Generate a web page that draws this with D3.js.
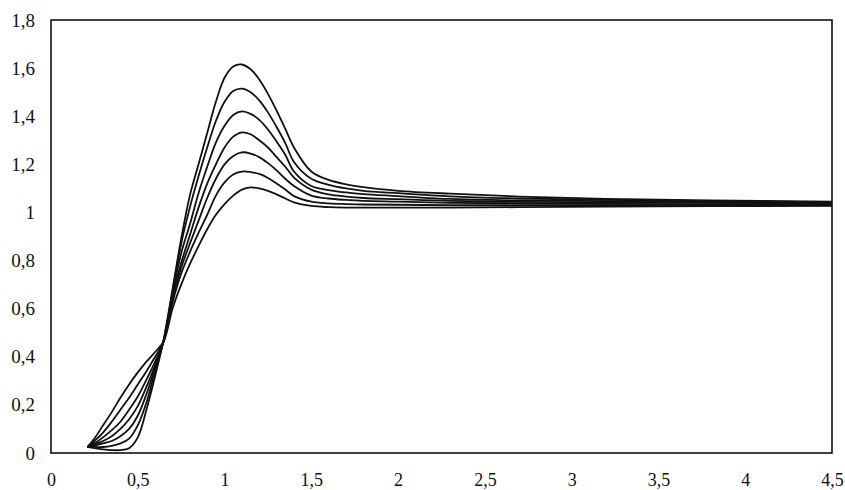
<!DOCTYPE html>
<html><head><meta charset="utf-8">
<script src="https://cdn.jsdelivr.net/npm/d3@7/dist/d3.min.js"></script>
<style>
html,body{margin:0;padding:0;background:#fff;}
svg{display:block;}
text{font-family:"Liberation Serif","Times New Roman",serif;fill:#111;}
</style></head>
<body>
<svg id="c" width="845" height="490"></svg>
<script>
const xTicks = [0, 0.5, 1, 1.5, 2, 2.5, 3, 3.5, 4, 4.5];
const xTickLabels = ["0", "0,5", "1", "1,5", "2", "2,5", "3", "3,5", "4", "4,5"];
const yTicks = [0, 0.2, 0.4, 0.6, 0.8, 1, 1.2, 1.4, 1.6, 1.8];
const yTickLabels = ["0", "0,2", "0,4", "0,6", "0,8", "1", "1,2", "1,4", "1,6", "1,8"];

const xs = [0.21,0.25,0.3,0.35,0.4,0.45,0.5,0.55,0.6,0.65,0.7,0.75,0.8,0.85,0.9,0.95,1.0,1.05,1.1,1.15,1.2,1.25,1.3,1.35,1.4,1.5,1.6,1.7,1.8,2.0,2.3,2.7,3.2,3.8,4.5];

const curve1 = [0.025,0.02,0.015,0.012,0.012,0.02,0.065,0.18,0.32,0.475,0.68,0.89,1.07,1.20,1.33,1.46,1.56,1.607,1.615,1.595,1.553,1.493,1.423,1.347,1.27,1.17,1.135,1.117,1.105,1.09,1.078,1.066,1.056,1.05,1.045];
const curve2 = [0.025,0.025,0.025,0.03,0.04,0.06,0.115,0.21,0.34,0.472,0.67,0.87,1.02,1.15,1.27,1.38,1.46,1.505,1.515,1.50,1.466,1.416,1.355,1.288,1.21,1.14,1.115,1.10,1.09,1.08,1.067,1.058,1.052,1.047,1.043];
const curve3 = [0.025,0.03,0.04,0.05,0.07,0.10,0.155,0.245,0.355,0.47,0.66,0.83,0.95,1.08,1.19,1.29,1.36,1.405,1.42,1.41,1.385,1.345,1.295,1.24,1.17,1.11,1.093,1.083,1.076,1.068,1.056,1.05,1.047,1.043,1.04];
const curve4 = [0.025,0.035,0.05,0.07,0.10,0.14,0.195,0.275,0.365,0.468,0.65,0.79,0.905,1.02,1.12,1.20,1.27,1.315,1.333,1.325,1.30,1.27,1.23,1.19,1.145,1.095,1.075,1.066,1.06,1.055,1.048,1.044,1.042,1.04,1.037];
const curve5 = [0.025,0.04,0.065,0.095,0.13,0.18,0.235,0.305,0.38,0.466,0.64,0.77,0.87,0.965,1.06,1.14,1.20,1.235,1.25,1.245,1.23,1.205,1.175,1.14,1.11,1.07,1.058,1.052,1.048,1.045,1.04,1.038,1.036,1.035,1.034];
const curve6 = [0.025,0.05,0.085,0.13,0.18,0.23,0.285,0.34,0.40,0.465,0.625,0.745,0.835,0.915,0.99,1.07,1.125,1.158,1.17,1.168,1.16,1.143,1.12,1.095,1.068,1.045,1.038,1.035,1.033,1.032,1.03,1.03,1.03,1.03,1.03];
const curve7 = [0.025,0.06,0.115,0.17,0.23,0.285,0.335,0.38,0.42,0.465,0.60,0.70,0.785,0.86,0.93,0.99,1.035,1.07,1.095,1.104,1.10,1.09,1.075,1.058,1.042,1.027,1.022,1.02,1.02,1.02,1.02,1.022,1.024,1.026,1.027];

const series = [curve1, curve2, curve3, curve4, curve5, curve6, curve7];

const svg = d3.select("#c");
const x = d3.scaleLinear().domain([0, 4.5]).range([51, 832]);
const y = d3.scaleLinear().domain([0, 1.8]).range([453, 20]);

const line = d3.line().x(d => x(d[0])).y(d => y(d[1])).curve(d3.curveCatmullRom.alpha(0.5));
svg.append("g").selectAll("path").data(series).join("path")
  .attr("d", s => line(xs.map((v, i) => [v, s[i]])))
  .attr("fill", "none").attr("stroke", "#111").attr("stroke-width", 1.8)
  .attr("stroke-linejoin", "round");

svg.append("rect").attr("x", x(0)).attr("y", y(1.8)).attr("width", x(4.5) - x(0)).attr("height", y(0) - y(1.8))
  .attr("fill", "none").attr("stroke", "#111").attr("stroke-width", 1.6);

const xAxis = d3.axisBottom(x).tickValues(xTicks).tickFormat((d, i) => xTickLabels[i]).tickSize(0).tickPadding(20);
const gx = svg.append("g").attr("transform", `translate(0,${y(0)})`).call(xAxis);
gx.select(".domain").remove();
gx.selectAll("text").attr("font-size", 18).attr("fill", "#111");

const yAxis = d3.axisLeft(y).tickValues(yTicks).tickFormat((d, i) => yTickLabels[i]).tickSize(0).tickPadding(16);
const gy = svg.append("g").attr("transform", `translate(${x(0)},0)`).call(yAxis);
gy.select(".domain").remove();
gy.selectAll("text").attr("font-size", 19).attr("fill", "#111");
</script>
</body></html>
